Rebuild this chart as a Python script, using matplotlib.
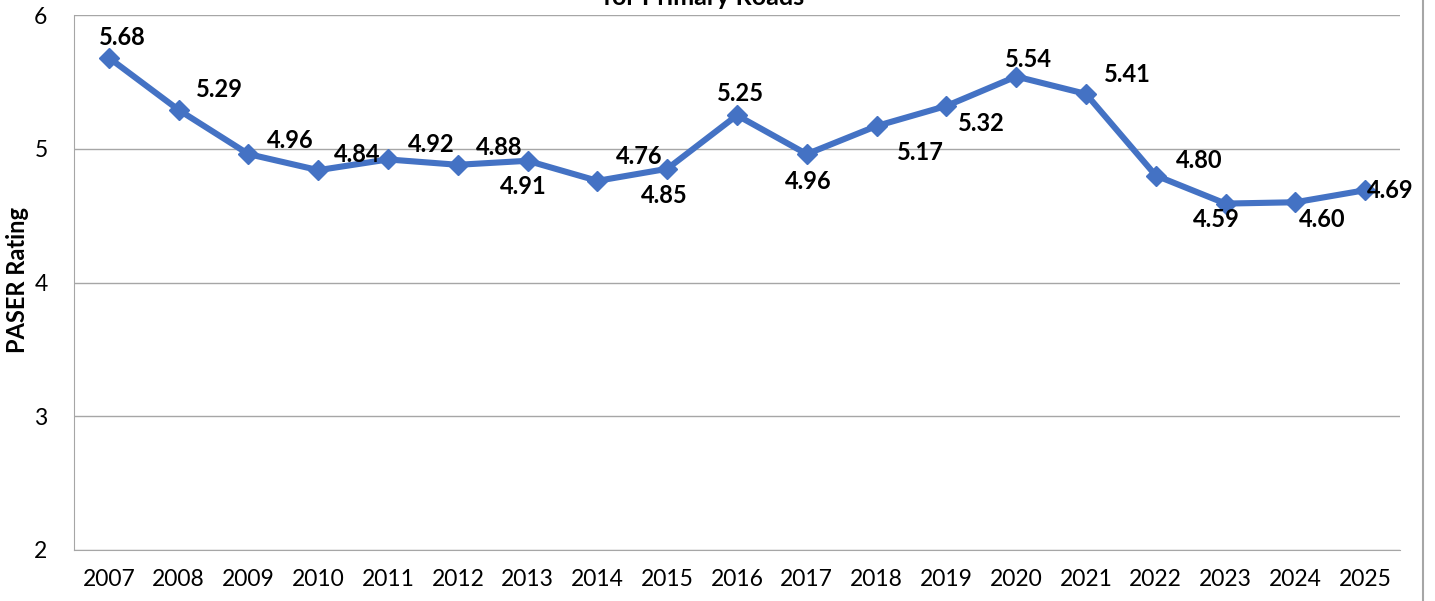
import matplotlib.pyplot as plt
from matplotlib.lines import Line2D

years = ['2007', '2008', '2009', '2010', '2011', '2012', '2013', '2014', '2015', '2016',
         '2017', '2018', '2019', '2020', '2021', '2022', '2023', '2024', '2025']
rating = [5.68, 5.29, 4.96, 4.84, 4.92, 4.88, 4.91, 4.76, 4.85, 5.25,
          4.96, 5.17, 5.32, 5.54, 5.41, 4.80, 4.59, 4.60, 4.69]

# label offsets (pixels) from each point
offs = [(13, 20), (41, 20), (42, 14), (39, 16), (43, 15), (41, 17), (-4, -26), (42, 24),
        (-3, -27), (3, 22), (1, -27), (44, -26), (35, -18), (12, 17), (41, 19), (44, 15),
        (-9, -16), (27, -17), (25, 0)]

plt.rcParams['font.family'] = ['Lato', 'DejaVu Sans']

fig = plt.figure(figsize=(14.35, 6.01), dpi=100)
ax = fig.add_axes([74/1435, 1 - 550/601, (1400-74)/1435, (550-15)/601])

x = range(len(years))
ax.plot(x, rating, color='#4472C4', lw=4.4, marker='D', ms=10, zorder=3)

for i, v in enumerate(rating):
    ax.annotate('%.2f' % v, (i, v), xytext=offs[i], textcoords='offset pixels',
                ha='center', va='center', fontsize=17, fontweight='bold', color='black')

ax.set_xlim(-0.5, len(years) - 0.5)
ax.set_ylim(2, 6)
ax.set_yticks([2, 3, 4, 5, 6])
ax.set_xticks(list(x))
ax.set_xticklabels(years)
ax.tick_params(length=0, labelsize=16.5, pad=14)
ax.tick_params(axis='y', pad=19)
ax.grid(axis='y', color='#A6A6A6', lw=1)
ax.set_axisbelow(True)
for s in ['top', 'right']:
    ax.spines[s].set_visible(False)
ax.spines['left'].set_color('#A6A6A6')
ax.spines['bottom'].set_color('#A6A6A6')
ax.set_ylabel('PASER Rating', fontsize=17, fontweight='bold', va='center')
ax.yaxis.set_label_coords((18 - 74) / 1326, 0.505)

fig.text(0.49, 1 - 5/601, 'Average PASER Rating\nfor Primary Roads', ha='center', va='baseline',
         fontsize=18, fontweight='bold')

fig.add_artist(Line2D([1423/1435, 1423/1435], [0, 1], color='#A6A6A6', lw=1.5))

fig.savefig('out.png', dpi=100)
